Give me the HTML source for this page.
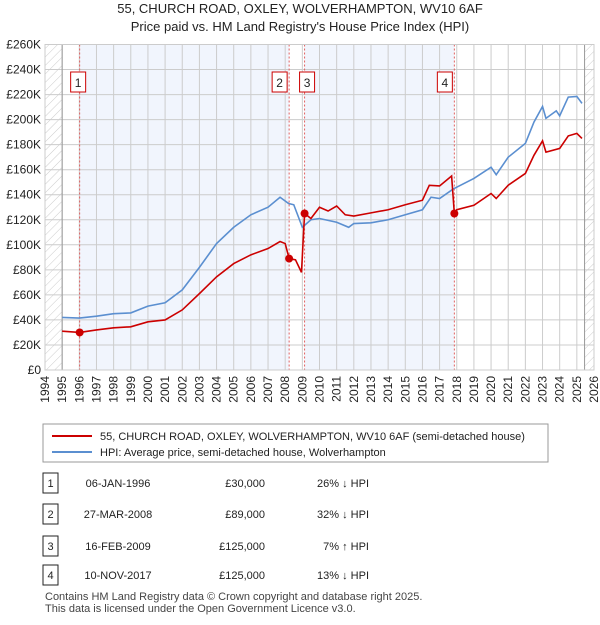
<!DOCTYPE html>
<html><head><meta charset="utf-8"><style>
body{margin:0;background:#fff;font-family:"Liberation Sans","DejaVu Sans",sans-serif;}
svg text{font-family:"Liberation Sans","DejaVu Sans",sans-serif;}
</style></head><body>
<svg id="c" width="600" height="620" xmlns="http://www.w3.org/2000/svg">
<defs><pattern id="hatch" width="6" height="6" patternUnits="userSpaceOnUse" patternTransform="rotate(45)"><line x1="0" y1="0" x2="0" y2="6" stroke="#ccc" stroke-width="1"/></pattern></defs>
<text x="300" y="13" text-anchor="middle" font-size="13" fill="#222">55, CHURCH ROAD, OXLEY, WOLVERHAMPTON, WV10 6AF</text>
<text x="300" y="31" text-anchor="middle" font-size="13" fill="#222">Price paid vs. HM Land Registry's House Price Index (HPI)</text>
<g id="plot"></g>
<g>
<rect x="43" y="424" width="505" height="38" fill="#fff" stroke="#999"/>
<line x1="52" y1="436" x2="92" y2="436" stroke="#cc0000" stroke-width="2"/>
<text x="100" y="440" font-size="11" fill="#222">55, CHURCH ROAD, OXLEY, WOLVERHAMPTON, WV10 6AF (semi-detached house)</text>
<line x1="52" y1="452" x2="92" y2="452" stroke="#5b8fd0" stroke-width="2"/>
<text x="100" y="456" font-size="11" fill="#222">HPI: Average price, semi-detached house, Wolverhampton</text>
</g>
<g id="table"></g>
<text x="45" y="600" font-size="11" fill="#444">Contains HM Land Registry data © Crown copyright and database right 2025.</text>
<text x="45" y="612" font-size="11" fill="#444">This data is licensed under the Open Government Licence v3.0.</text>
</svg>
<script>
const hpiYears=[1995,1996,1997,1998,1999,2000,2001,2002,2003,2004,2005,2006,2007,2007.7,2008.2,2008.5,2009,2009.5,2010,2011,2011.7,2012,2013,2014,2015,2016,2016.5,2017,2017.8,2018,2019,2020,2020.3,2021,2022,2022.5,2023,2023.2,2023.8,2024,2024.5,2025,2025.3];
const hpiValues=[42,41.5,43,45,45.6,51,53.7,64,82,101,114,124,130,138,133,132,114,120,121,118,114,117,117.6,120,124,128,138,137,144.6,146,153,162,156,170,181,198,210.5,201,207,203,218,218.5,213];
const redYears=[1995,1996.02,1997,1998,1999,2000,2001,2002,2003,2004,2005,2006,2007,2007.7,2008.0,2008.23,2008.6,2008.95,2009.13,2009.5,2010,2010.5,2011,2011.5,2012,2013,2014,2015,2016,2016.4,2017,2017.7,2017.86,2018,2019,2020,2020.3,2021,2022,2022.5,2023,2023.2,2024,2024.5,2025,2025.3];
const redValues=[31,30,32,33.7,34.5,38.5,40,48,61,74.4,85,92,97,102.6,101,89,88,78,125,121,130,127,131,124,123,125.5,128,132,135.6,147.5,147,155,125,128,131.6,141,137,147.6,157,171.5,183,174,177,187,189,185];
const saleYears=[1996.02,2008.23,2009.13,2017.86];
const saleValues=[30,89,125,125];
const saleLabels=["1","2","3","4"];
const saleDates=["06-JAN-1996","27-MAR-2008","16-FEB-2009","10-NOV-2017"];
const salePrices=["£30,000","£89,000","£125,000","£125,000"];
const saleHpi=["26% ↓ HPI","32% ↓ HPI","7% ↑ HPI","13% ↓ HPI"];
const yTicks=[0,20,40,60,80,100,120,140,160,180,200,220,240,260];
const yTickLabels=["£0","£20K","£40K","£60K","£80K","£100K","£120K","£140K","£160K","£180K","£200K","£220K","£240K","£260K"];
const xTicks=[1994,1995,1996,1997,1998,1999,2000,2001,2002,2003,2004,2005,2006,2007,2008,2009,2010,2011,2012,2013,2014,2015,2016,2017,2018,2019,2020,2021,2022,2023,2024,2025,2026];

const L=45,R=594,T=44.5,B=370;
const xs=y=>L+(y-1994)/(2026-1994)*(R-L);
const ys=v=>B-v/260*(B-T);
const NS="http://www.w3.org/2000/svg";
const plot=document.getElementById('plot');
function mk(tag,at,parent){const e=document.createElementNS(NS,tag);for(const k in at)e.setAttribute(k,at[k]);(parent||plot).appendChild(e);return e;}
// background
let bg=mk('rect',{x:L,y:T,width:R-L,height:B-T,fill:'#fff'});


let s1=mk('rect',{x:xs(saleYears[0]),y:T,width:xs(saleYears[1])-xs(saleYears[0]),height:B-T,fill:'#f1f5fd'});


let s2=mk('rect',{x:xs(saleYears[2]),y:T,width:xs(saleYears[3])-xs(saleYears[2]),height:B-T,fill:'#f1f5fd'});


let h1=mk('rect',{x:L,y:T,width:xs(1995)-L,height:B-T,fill:'url(#hatch)'});


let h2=mk('rect',{x:xs(2025.45),y:T,width:R-xs(2025.45),height:B-T,fill:'url(#hatch)'});


// grid
yTicks.forEach((v,i)=>{
 let g=mk('line',{x1:L,x2:R,y1:ys(v),y2:ys(v),stroke:'#ccc','stroke-width':1});
 
 
 let t=mk('text',{x:L-4,y:ys(v)+4,'text-anchor':'end','font-size':12,fill:'#222'});
 
 
 t.textContent=yTickLabels[i];
});
xTicks.forEach(y=>{
 let g=mk('line',{x1:xs(y),x2:xs(y),y1:T,y2:B,stroke:'#ccc','stroke-width':1});
 
 
 let t=mk('text',{x:0,y:0,'text-anchor':'end','font-size':12,fill:'#222',transform:`translate(${xs(y)+4},${B+6}) rotate(-90)`});
 
 
 t.textContent=y;
});
let ax=mk('line',{x1:xs(1995),x2:xs(1995),y1:T,y2:B,stroke:'#999','stroke-width':1});


let ax2=mk('line',{x1:xs(2025.45),x2:xs(2025.45),y1:T,y2:B,stroke:'#999','stroke-width':1});


// sale lines
saleYears.forEach((y,i)=>{
 let l=mk('line',{x1:xs(y),x2:xs(y),y1:T,y2:B,stroke:'#e06060','stroke-width':1,'stroke-dasharray':'2,2'});
 
 
 let bx=xs(y)-(i==1?10:(i==2?-2:(i==3?10:-2)));
 let r=mk('rect',{x:bx-7+ (i==0?-4:0),y:72,width:15,height:20,fill:'#fff',stroke:'#cc0000'});
 
 
 let t=mk('text',{x:bx+0.5+(i==0?-4:0),y:87,'text-anchor':'middle','font-size':12,fill:'#222'});
 
 
 t.textContent=saleLabels[i];
});
let hp=mk('polyline',{points:hpiYears.map((y,i)=>xs(y)+','+ys(hpiValues[i])).join(' '),fill:'none',stroke:'#5b8fd0','stroke-width':1.6});


let rp=mk('polyline',{points:redYears.map((y,i)=>xs(y)+','+ys(redValues[i])).join(' '),fill:'none',stroke:'#cc0000','stroke-width':1.6});


saleYears.forEach((y,i)=>{
 let c=mk('circle',{cx:xs(y),cy:ys(saleValues[i]),r:4,fill:'#cc0000'});
 
 
});
let fr=mk('rect',{x:L,y:T,width:R-L,height:B-T,fill:'none',stroke:'#ccc'});


// table
const tb=document.getElementById('table');
const rowY=[483,514,546,575];
rowY.forEach((ry,i)=>{
 let r=mk('rect',{x:43,y:ry-10,width:15,height:20,fill:'#fff',stroke:'#222'},tb);
 
 
 let a=mk('text',{x:50.5,y:ry+4,'text-anchor':'middle','font-size':11,fill:'#222'},tb);
 
 
 a.textContent=saleLabels[i];
 let d=mk('text',{x:118,y:ry+4,'text-anchor':'middle','font-size':11,fill:'#222'},tb);
 
 
 d.textContent=saleDates[i];
 let p=mk('text',{x:265,y:ry+4,'text-anchor':'end','font-size':11,fill:'#222'},tb);
 
 
 p.textContent=salePrices[i];
 let h=mk('text',{x:369,y:ry+4,'text-anchor':'end','font-size':11,fill:'#222'},tb);
 
 
 h.textContent=saleHpi[i];
});
</script>
</body></html>
